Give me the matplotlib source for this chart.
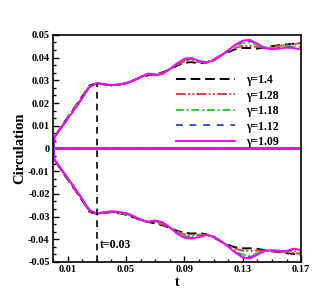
import numpy as np
import matplotlib
matplotlib.use("Agg")
import matplotlib.pyplot as plt
from matplotlib.ticker import MultipleLocator, AutoMinorLocator

plt.rcParams['font.family'] = ['Liberation Serif', 'DejaVu Serif']
plt.rcParams['font.weight'] = 'bold'
plt.rcParams['mathtext.default'] = 'regular'

# time samples
t = [0, .001, .005, .01, .015, .02, .025, .03, .035, .04, .045, .05, .055, .06,
     .065, .07, .075, .08, .085, .09, .095, .1, .105, .11, .115, .12, .125, .13,
     .135, .14, .145, .15, .155, .16, .165, .17]

labels = ["\u03b3=1.4", "\u03b3=1.28", "\u03b3=1.18", "\u03b3=1.12", "\u03b3=1.09"]

# positive circulation
pos_14 = [0, .0052, .0090, .0137, .0183, .0230, .0278, .0287, .0282, .0278, .0281, .0288,
          .0300, .0313, .0322, .0328, .0335, .0348, .0365, .0378, .0380, .0375, .0378,
          .0392, .0410, .0425, .0437, .0443, .0442, .0440, .0445, .0450, .0455, .0458,
          .0461, .0465]
pos_128 = [0, .0051, .0089, .0135, .0181, .0228, .0276, .0287, .0282, .0278, .0281, .0288,
           .0299, .0314, .0325, .0327, .0332, .0348, .0368, .0383, .0386, .0380, .0378,
           .0390, .0409, .0428, .0443, .0452, .0452, .0447, .0444, .0447, .0452, .0455,
           .0460, .0463]
pos_118 = [0, .0051, .0088, .0133, .0179, .0226, .0274, .0287, .0283, .0279, .0281, .0288,
           .0299, .0315, .0327, .0325, .0330, .0349, .0371, .0389, .0392, .0383, .0378,
           .0389, .0409, .0430, .0450, .0465, .0468, .0455, .0443, .0441, .0445, .0450,
           .0451, .0447]
pos_112 = [0, .0050, .0086, .0131, .0177, .0224, .0272, .0287, .0283, .0279, .0281, .0287,
           .0298, .0315, .0329, .0323, .0329, .0350, .0373, .0392, .0395, .0384, .0378,
           .0388, .0408, .0431, .0455, .0471, .0474, .0459, .0442, .0438, .0442, .0447,
           .0446, .0440]
pos_109 = [0, .0050, .0085, .0130, .0175, .0222, .0270, .0287, .0283, .0279, .0281, .0287,
           .0298, .0315, .0330, .0322, .0328, .0350, .0375, .0395, .0398, .0385, .0378,
           .0388, .0408, .0432, .0458, .0475, .0478, .0462, .0442, .0437, .0440, .0444,
           .0442, .0436]

# negative circulation
neg_14 = [0, -.0052, -.0090, -.0137, -.0183, -.0230, -.0280, -.0288, -.0284, -.0281, -.0285,
          -.0292, -.0303, -.0315, -.0324, -.0330, -.0338, -.0350, -.0363, -.0372, -.0375,
          -.0373, -.0378, -.0392, -.0410, -.0425, -.0436, -.0440, -.0440, -.0442, -.0448,
          -.0453, -.0457, -.0461, -.0465, -.0470]
neg_128 = [0, -.0051, -.0089, -.0135, -.0181, -.0228, -.0278, -.0288, -.0283, -.0280, -.0284,
           -.0291, -.0302, -.0315, -.0324, -.0327, -.0334, -.0349, -.0366, -.0378, -.0382,
           -.0380, -.0380, -.0391, -.0409, -.0428, -.0442, -.0450, -.0452, -.0450, -.0450,
           -.0452, -.0455, -.0458, -.0460, -.0465]
neg_118 = [0, -.0051, -.0088, -.0133, -.0179, -.0226, -.0276, -.0287, -.0282, -.0279, -.0282,
           -.0289, -.0300, -.0314, -.0324, -.0322, -.0329, -.0348, -.0370, -.0386, -.0390,
           -.0385, -.0380, -.0390, -.0409, -.0430, -.0452, -.0468, -.0472, -.0462, -.0451,
           -.0450, -.0452, -.0454, -.0450, -.0458]
neg_112 = [0, -.0050, -.0086, -.0131, -.0177, -.0224, -.0274, -.0286, -.0281, -.0278, -.0280,
           -.0286, -.0298, -.0313, -.0323, -.0319, -.0327, -.0348, -.0373, -.0390, -.0394,
           -.0388, -.0381, -.0389, -.0408, -.0431, -.0457, -.0476, -.0479, -.0466, -.0450,
           -.0449, -.0451, -.0452, -.0444, -.0452]
neg_109 = [0, -.0050, -.0085, -.0130, -.0175, -.0222, -.0272, -.0286, -.0281, -.0277, -.0279,
           -.0285, -.0297, -.0313, -.0323, -.0317, -.0325, -.0348, -.0375, -.0393, -.0397,
           -.0390, -.0381, -.0388, -.0408, -.0432, -.0460, -.0480, -.0484, -.0468, -.0450,
           -.0449, -.0451, -.0452, -.0441, -.0448]

t_mark = 0.03
mark_top = 0.0286

pos = [pos_14, pos_128, pos_118, pos_112, pos_109]
neg = [neg_14, neg_128, neg_118, neg_112, neg_109]
colors = ['black', '#d9453a', '#2ecc2e', '#3b4fe0', '#ff00ff']
dashes = [(5, 2.5), (5, 1.2, 1, 1.2, 1, 1.2), (4, 1.5, 1, 1.5), (3.5, 3.5), ()]

fig = plt.figure(figsize=(3.32, 2.96), dpi=100)
ax = fig.add_axes([0.16, 0.115, 0.747, 0.767])

for i in range(5):
    ls = '-' if i == 4 else (0, dashes[i])
    ax.plot(t, pos[i], color=colors[i], lw=1.4, linestyle=ls, label=labels[i])
    ax.plot(t, neg[i], color=colors[i], lw=1.4, linestyle=ls)
    ax.plot(t, np.zeros(len(t)), color=colors[i], lw=2.0, linestyle=ls)

ax.plot([t_mark, t_mark], [-0.05, mark_top], color='black', lw=1.2, linestyle=(0, (4, 3)))
ax.text(t_mark + 0.002, -0.0425, "t=0.03", fontsize=8.5, fontweight='bold', va='center', ha='left')

ax.set_xlim(0, 0.17)
ax.set_ylim(-0.05, 0.05)
ax.set_xticks([0.01, 0.05, 0.09, 0.13, 0.17])
ax.set_xticklabels(['0.01', '0.05', '0.09', '0.13', '0.17'])
ax.set_yticks(np.arange(-0.05, 0.0501, 0.01))
ax.set_yticklabels(['-0.05', '-0.04', '-0.03', '-0.02', '-0.01', '0',
                    '0.01', '0.02', '0.03', '0.04', '0.05'])
ax.xaxis.set_minor_locator(AutoMinorLocator(4))
ax.yaxis.set_minor_locator(AutoMinorLocator(3))
ax.tick_params(which='both', direction='in', top=False, right=False, labelsize=7.5, width=1)
ax.tick_params(which='major', length=4, pad=2.5)
ax.tick_params(which='minor', length=2.2)
for s in ax.spines.values():
    s.set_linewidth(1.2)

ax.set_xlabel('t', fontsize=10, fontweight='bold', labelpad=1)
ax.set_ylabel('Circulation', fontsize=10.5, fontweight='bold', labelpad=1)

ax.legend(loc='upper left', bbox_to_anchor=(0.53, 0.75), bbox_transform=fig.transFigure,
          frameon=False, handlelength=5.0, handletextpad=0.9,
          labelspacing=0.3, borderpad=0, borderaxespad=0,
          prop={'weight': 'bold', 'size': 8.5})

fig.savefig('out.png', dpi=100)
